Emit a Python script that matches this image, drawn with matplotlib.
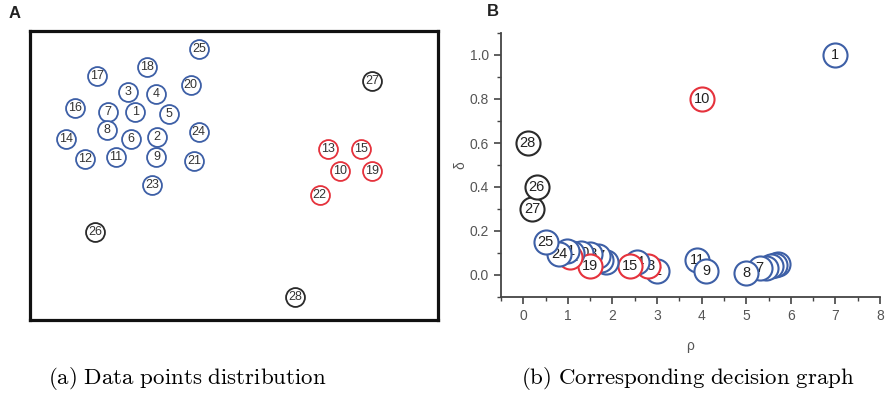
import numpy as np
import matplotlib
matplotlib.use("Agg")
import matplotlib.pyplot as plt

plt.rcParams['font.family'] = ['Liberation Sans', 'DejaVu Sans']
plt.rcParams['mathtext.fontset'] = 'cm'

# colours of the three groups
colors = {"b": "#3d5fa6", "r": "#e5323c", "k": "#2a2a2a"}

# ---- panel A: point positions (arbitrary units, box is 10 x 7)
a_labels = [25, 18, 17, 20, 27, 3, 4, 16, 7, 1, 5, 8, 24, 14, 6, 2, 13, 15,
            12, 11, 9, 21, 10, 19, 23, 22, 26, 28]
a_x = [4.14, 2.86, 1.64, 3.94, 8.39, 2.40, 3.09, 1.11, 1.90, 2.58, 3.40, 1.88,
       4.13, 0.89, 2.48, 3.12, 7.31, 8.12, 1.36, 2.10, 3.10, 4.02, 7.59, 8.39,
       2.99, 7.10, 1.59, 6.50]
a_y = [6.56, 6.13, 5.90, 5.69, 5.79, 5.52, 5.47, 5.14, 5.03, 5.03, 4.98, 4.61,
       4.55, 4.38, 4.39, 4.43, 4.15, 4.15, 3.89, 3.95, 3.95, 3.84, 3.61, 3.61,
       3.26, 3.02, 2.14, 0.56]
a_group = ["b", "b", "b", "b", "k", "b", "b", "b", "b", "b", "b", "b", "b", "b",
           "b", "b", "r", "r", "b", "b", "b", "b", "r", "r", "b", "r", "k", "k"]

# ---- panel B: decision graph (rho, delta), listed in drawing order
b_labels = [1, 10, 6, 5, 4, 3, 7, 8, 11, 9, 2, 13, 14, 15, 16, 12, 17, 18,
            20, 19, 23, 22, 21, 24, 25, 27, 26, 28]
b_rho = [7.0, 4.0, 5.72, 5.64, 5.55, 5.45, 5.3, 5.0, 3.9, 4.1, 3.0, 2.8, 2.55,
         2.4, 1.85, 1.75, 1.68, 1.5, 1.3, 1.5, 1.1, 1.05, 0.98, 0.8, 0.5, 0.2,
         0.3, 0.1]
b_delta = [1.0, 0.80, 0.05, 0.045, 0.04, 0.03, 0.03, 0.01, 0.07, 0.02, 0.02,
           0.04, 0.06, 0.04, 0.06, 0.07, 0.085, 0.095, 0.10, 0.04, 0.10, 0.08,
           0.11, 0.095, 0.15, 0.30, 0.40, 0.60]
b_group = ["b", "r", "b", "b", "b", "b", "b", "b", "b", "b", "b", "r", "b", "r",
           "b", "b", "b", "b", "b", "r", "b", "r", "b", "b", "b", "k", "k", "k"]

fig = plt.figure(figsize=(8.86, 3.99), dpi=100)

# ---------------- panel A
axA = fig.add_axes([30 / 886, 79 / 399, 408 / 886, 289 / 399])
axA.set_xlim(0, 10)
axA.set_ylim(0, 7)
axA.set_xticks([])
axA.set_yticks([])
for s in axA.spines.values():
    s.set_linewidth(2.3)
    s.set_color("#111111")
for lab, x, y, g in zip(a_labels, a_x, a_y, a_group):
    axA.scatter(x, y, s=185, facecolor="white", edgecolor=colors[g], linewidth=1.3, zorder=3)
    axA.text(x, y, str(lab), ha="center", va="center", fontsize=9,
             color="#333333", zorder=4)

# ---------------- panel B
axB = fig.add_axes([501 / 886, 102 / 399, 379 / 886, 264 / 399])
axB.set_xlim(-0.5, 8)
axB.set_ylim(-0.1, 1.1)
axB.spines["top"].set_visible(False)
axB.spines["right"].set_visible(False)
for side in ["left", "bottom"]:
    axB.spines[side].set_color("#444444")
    axB.spines[side].set_linewidth(1.3)
axB.set_xticks(np.arange(0, 9, 1))
axB.set_xticks(np.arange(-0.5, 8.5, 0.5), minor=True)
axB.set_yticks([0.0, 0.2, 0.4, 0.6, 0.8, 1.0])
axB.set_yticks(np.arange(-0.1, 1.15, 0.1), minor=True)
axB.tick_params(which="major", length=5, width=1.2, color="#444444",
                labelsize=10, labelcolor="#555555")
axB.tick_params(which="minor", length=3, width=1.0, color="#444444")
axB.set_xlabel("ρ", fontsize=10, color="#555555", labelpad=12)
axB.set_ylabel("δ", fontsize=10, color="#555555", labelpad=2)

z = 3
for lab, x, y, g in zip(b_labels, b_rho, b_delta, b_group):
    axB.scatter(x, y, s=300, facecolor="white", edgecolor=colors[g], linewidth=1.5,
                zorder=z, clip_on=False)
    axB.text(x, y, str(lab), ha="center", va="center", fontsize=10.5,
             color="#222222", zorder=z + 1)
    z += 2

# panel letters
fig.text(15 / 886, 1 - 13 / 399, "A", fontsize=12, fontweight="bold",
         ha="center", va="center", color="#222222")
fig.text(493 / 886, 1 - 12 / 399, "B", fontsize=12, fontweight="bold",
         ha="center", va="center", color="#222222")

# captions
fig.text(187 / 886, 1 - 378 / 399, r"$\mathrm{(a)\ Data\ points\ distribution}$",
         fontsize=16.5, ha="center", va="center")
fig.text(688 / 886, 1 - 378 / 399, r"$\mathrm{(b)\ Corresponding\ decision\ graph}$",
         fontsize=16.5, ha="center", va="center")

fig.savefig("out.png", dpi=100)
